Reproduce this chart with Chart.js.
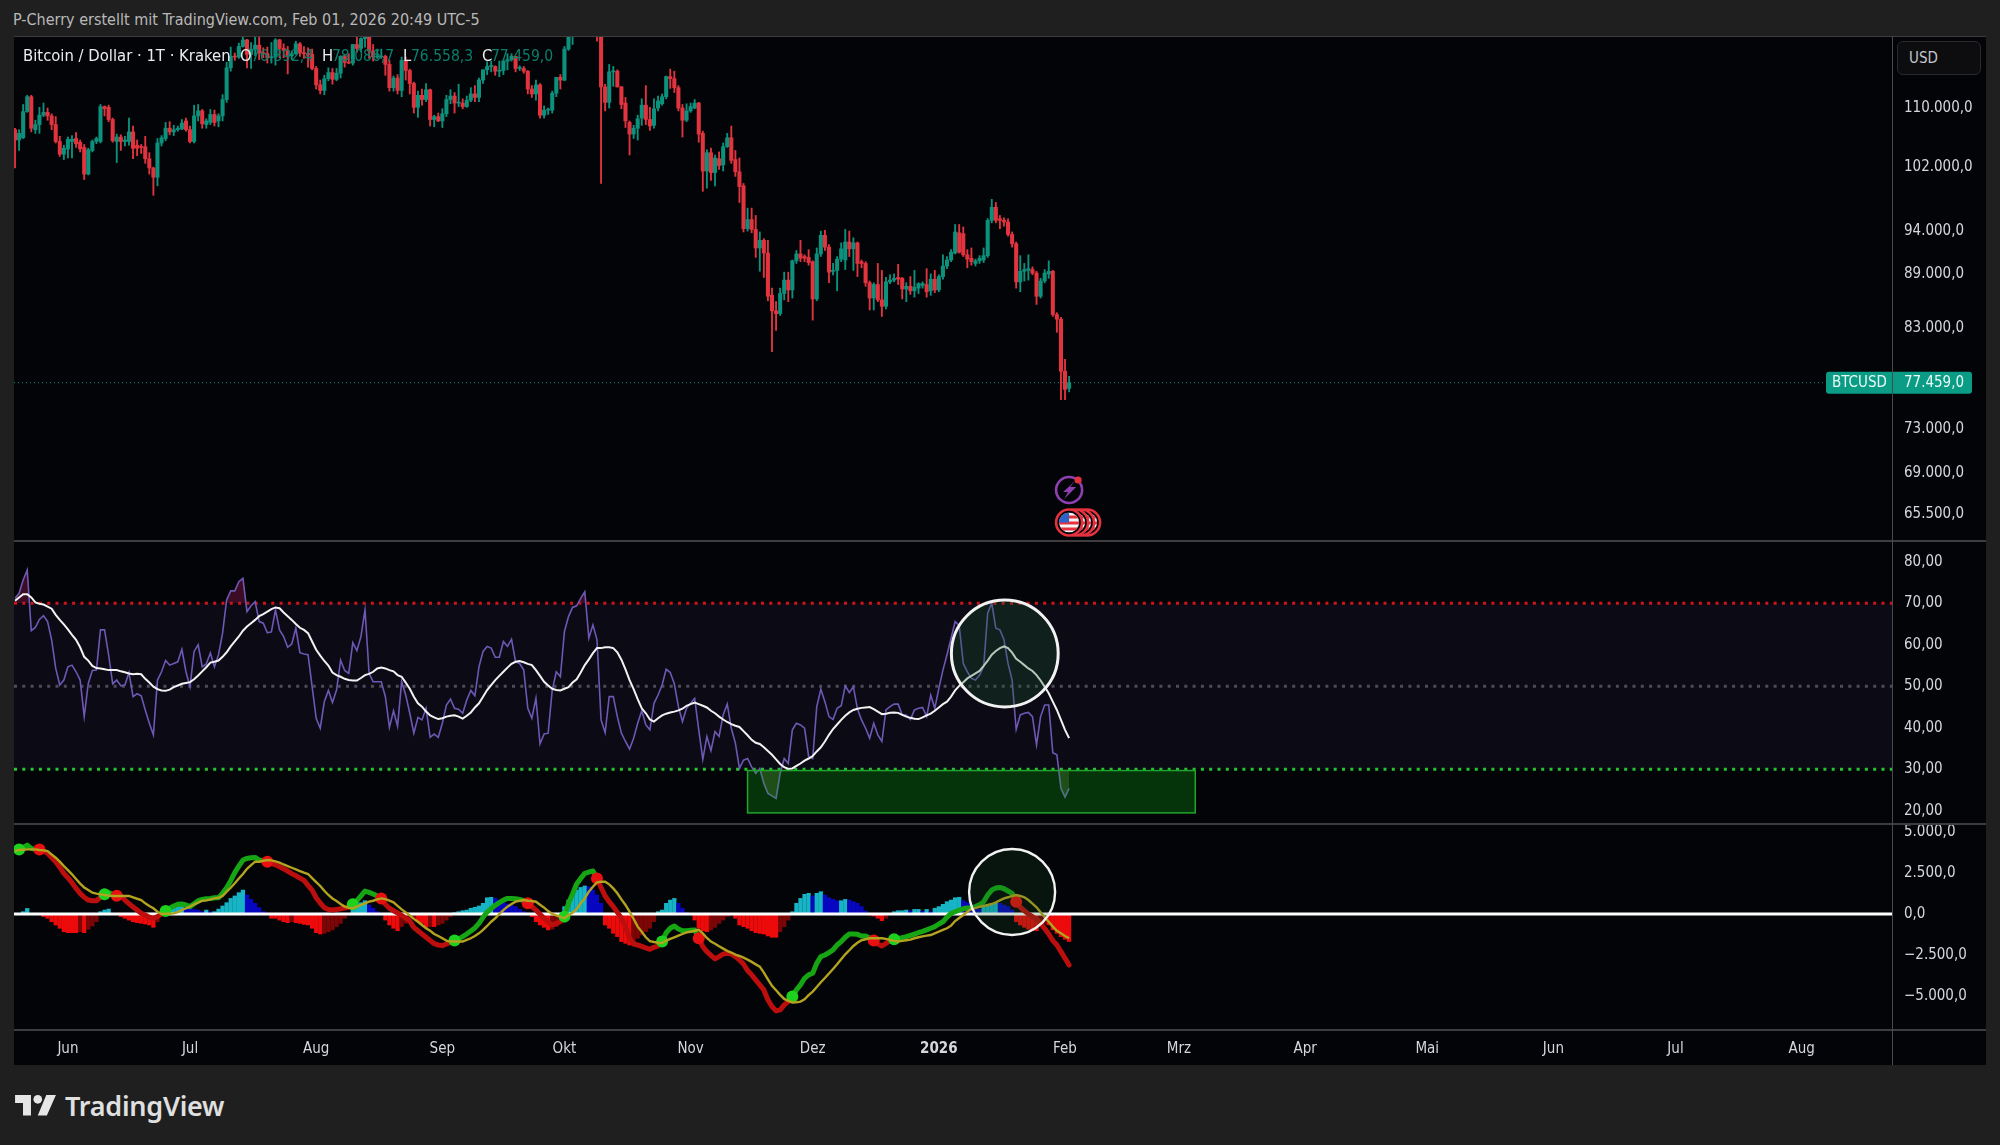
<!DOCTYPE html>
<html>
<head>
<meta charset="utf-8">
<title>BTCUSD</title>
<script src="https://cdn.jsdelivr.net/npm/chart.js@4"></script>
<style>
body { margin: 0; width: 2000px; height: 1145px; overflow: hidden; position: relative; background: #1f1f1f; color: #e6e6e6; font-family: "DejaVu Sans Condensed", "DejaVu Sans", sans-serif; }
canvas { position: absolute; left: 14px; background: #030408; }
#priceCanvas { top: 36px; }
#rsiCanvas { top: 540px; }
#macdCanvas { top: 823px; }
.t { position: absolute; white-space: nowrap; line-height: 18px; }
.sep { position: absolute; background: #3d3d40; }
.legend { top: 47px; font-size: 15.5px; color: #ececec; }
.val { color: #0a7f6c; }
</style>
</head>
<body>
<canvas id="priceCanvas" width="1972" height="504"></canvas>
<canvas id="rsiCanvas" width="1972" height="283"></canvas>
<canvas id="macdCanvas" width="1972" height="242"></canvas>

<div class="sep" style="left:14px;top:36px;width:1972px;height:1px"></div>
<div class="sep" style="left:14px;top:540px;width:1972px;height:1.5px"></div>
<div class="sep" style="left:14px;top:823px;width:1972px;height:1.5px"></div>
<div class="sep" style="left:14px;top:1029px;width:1972px;height:1.5px"></div>
<div class="sep" style="left:1892px;top:36px;width:1.2px;height:1029px;background:#4a4a4d"></div>

<div class="t" style="left:13px;top:11px;font-size:16px;color:#b9b9b9">P-Cherry erstellt mit TradingView.com, Feb 01, 2026 20:49 UTC-5</div>
<div class="t legend" style="left:23px;font-size:16.5px">Bitcoin / Dollar · 1T · Kraken</div>
<div class="t legend" style="left:240px;font-size:16.5px">O</div><div class="t legend val" style="left:251px">76.892,4</div>
<div class="t legend" style="left:322px;font-size:16.5px">H</div><div class="t legend val" style="left:332px">78.086,7</div>
<div class="t legend" style="left:403px;font-size:16.5px">L</div><div class="t legend val" style="left:411px">76.558,3</div>
<div class="t legend" style="left:482px;font-size:16.5px">C</div><div class="t legend val" style="left:491px">77.459,0</div>

<div class="t" style="left:1897px;top:41px;width:84px;height:34px;box-sizing:border-box;border:1px solid #2a2a2c;border-radius:6px;background:#0d0d10;font-size:15px;line-height:32px;padding-left:11px;color:#c4c6cc">USD</div>

<svg style="position:absolute;left:15px;top:1095px" width="41" height="21" viewBox="0 0 36 18.5"><path fill="#e6e6e6" d="M14 18H7V7H0V0h14v18zM28 18h-8L27.5 0h8.5L28 18z"/><circle cx="20" cy="3.8" r="3.8" fill="#e6e6e6"/></svg>
<div class="t" style="left:65px;top:1091px;font-family:'Noto Sans',sans-serif;font-weight:600;font-size:27px;line-height:30px;letter-spacing:-0.25px;color:#e0e0e0">TradingView</div>

<div id="debug" class="t" style="left:600px;top:5px;color:#ff0"></div>

<script>
// === DATA ===
// daily candles in thousand USD, index 0 = 19 May 2025, index 259 = 2 Feb 2026
const openK = [107.0,105.6,105.9,109.5,111.6,107.0,107.7,109.0,109.4,108.9,
107.7,105.4,103.7,104.4,105.4,105.8,105.3,104.6,101.1,104.2,
105.4,105.4,110.2,110.1,108.4,105.4,106.0,105.4,105.4,106.7,
104.9,104.7,104.7,103.1,101.9,100.7,105.2,105.8,107.2,106.7,
107.0,107.1,108.2,107.0,105.4,108.9,109.6,107.7,108.0,109.1,
108.2,108.9,111.2,115.8,117.5,117.4,119.0,120.0,117.8,118.6,
119.2,118.0,117.9,117.3,117.4,120.0,118.7,118.4,117.6,117.9,
119.4,118.0,117.9,117.8,115.7,113.3,112.5,114.2,115.1,114.1,
115.0,117.5,116.6,116.5,119.3,118.7,120.2,123.3,118.3,117.4,
117.4,117.5,116.3,112.9,114.3,112.5,116.9,115.4,113.5,110.1,
111.8,111.2,112.6,108.4,108.8,108.2,109.2,111.2,111.7,110.7,
110.7,110.2,111.1,112.0,111.5,114.0,115.5,116.0,116.0,115.3,
115.4,116.8,117.0,117.5,115.7,115.7,115.3,112.7,112.0,113.3,
109.0,109.7,109.7,112.1,114.4,114.0,118.6,120.6,122.3,122.4,
123.5,124.7,121.4,123.3,121.7,113.0,110.8,115.2,115.3,113.0,
110.7,108.0,106.4,107.2,108.6,110.4,108.4,107.6,110.0,110.6,
111.6,114.5,114.2,112.9,110.0,108.3,109.6,110.0,110.7,106.5,
101.5,103.9,101.3,103.1,102.3,104.7,105.9,103.0,101.4,99.6,
94.3,95.4,94.2,92.0,92.9,91.4,86.6,84.9,84.6,86.8,
88.3,87.2,90.5,91.3,91.0,90.9,90.4,86.2,91.3,93.5,
92.1,89.3,89.4,90.7,90.6,92.7,91.9,92.6,90.4,90.2,
88.0,86.3,87.8,86.1,85.4,88.1,88.3,88.6,88.5,87.3,
87.6,87.1,87.4,87.7,87.8,87.1,88.4,87.2,88.7,89.9,
90.6,91.4,93.8,93.7,91.2,90.8,90.2,90.5,90.6,91.1,
95.3,96.9,95.5,95.3,95.1,93.6,92.5,88.1,89.3,89.4,
89.5,89.1,86.5,88.2,89.0,89.3,84.5,84.0,78.6,76.892];
const highK = [107.2,107.0,110.5,111.8,111.8,108.3,110.1,110.7,110.0,109.2,
108.8,106.1,104.9,106.0,106.2,106.6,105.6,105.0,104.5,105.6,
106.0,110.5,110.3,110.4,108.6,106.4,106.3,106.1,108.6,107.5,
105.6,105.0,106.1,103.9,102.0,105.8,106.2,108.0,108.1,107.6,
107.5,108.4,108.6,107.5,110.4,110.5,109.8,108.5,109.8,109.7,
109.2,111.9,116.6,118.9,118.0,119.5,123.2,120.1,119.6,120.9,
120.6,118.8,118.9,119.6,120.2,120.1,119.4,119.0,118.3,119.8,
119.6,119.0,118.8,118.6,116.0,114.0,114.7,115.8,115.7,115.7,
117.6,117.7,117.9,119.3,122.3,120.3,123.7,124.4,119.3,118.6,
118.6,117.7,116.9,114.6,114.8,117.4,117.4,115.6,113.7,112.4,
112.7,113.5,112.7,109.0,109.3,109.9,111.8,112.6,112.2,113.4,
111.3,111.7,112.9,113.2,114.3,115.5,116.7,116.8,116.1,116.8,
117.0,117.9,117.9,117.5,116.1,116.0,115.4,113.2,114.0,113.5,
110.3,110.0,112.4,114.4,114.8,119.0,121.0,123.9,122.9,125.6,
126.3,125.1,124.2,123.9,122.6,113.4,116.3,116.0,115.5,113.1,
111.5,108.2,107.6,109.0,111.3,113.2,110.1,111.3,111.7,112.0,
114.6,115.6,115.3,113.2,110.5,110.6,110.7,111.2,110.8,106.8,
104.3,104.5,103.6,104.0,105.2,106.5,107.5,104.2,103.2,99.9,
96.8,96.8,95.9,93.9,93.1,92.9,87.4,85.9,87.4,89.2,
89.2,90.6,91.7,92.9,91.2,91.8,90.5,92.0,94.0,94.1,
92.4,90.2,91.0,92.6,94.2,94.0,93.2,92.7,90.6,90.4,
88.2,88.0,90.2,89.4,88.6,88.9,89.0,90.1,88.6,88.0,
88.7,89.4,88.0,88.1,89.6,89.0,89.4,88.9,91.2,91.0,
91.8,94.8,94.8,94.5,91.8,92.0,90.7,91.1,92.0,95.5,
97.9,97.5,95.9,95.6,95.5,93.9,92.7,91.1,90.2,91.2,
89.8,89.3,88.5,89.5,90.5,89.4,84.7,84.2,79.8,78.087];
const lowK = [101.9,104.2,105.8,109.4,106.7,106.5,106.5,108.8,108.3,107.0,
105.2,103.4,103.0,103.2,103.2,104.6,104.0,100.4,101.0,104.0,
105.1,105.2,108.9,108.1,105.3,102.6,104.2,104.8,104.9,103.1,
103.5,103.8,102.5,101.1,98.4,99.6,104.8,105.5,106.3,106.2,
106.8,107.0,106.8,105.2,105.2,108.2,107.2,107.2,107.7,107.5,
107.4,108.2,110.8,115.3,116.9,117.2,118.9,115.8,115.7,117.6,
117.0,117.3,116.5,116.5,116.2,117.3,117.3,114.9,117.0,117.8,
117.5,117.2,115.9,115.5,112.7,112.0,111.9,113.9,113.4,113.9,
114.3,115.9,116.4,116.2,118.1,118.2,118.9,117.2,116.8,117.2,
117.2,114.7,112.4,112.4,112.0,111.6,114.0,112.0,109.3,108.7,
110.4,110.9,107.5,107.4,108.1,107.3,108.8,110.6,109.3,110.2,
109.9,110.1,110.9,110.9,110.9,113.5,114.8,115.2,114.7,114.5,
114.8,115.5,116.8,115.2,115.4,115.0,112.0,111.5,111.1,108.6,
108.6,109.1,109.3,111.6,112.7,113.9,118.4,119.3,121.6,122.0,
123.0,120.6,121.0,119.8,99.9,109.6,110.0,113.1,113.0,109.9,
107.3,103.6,105.8,105.6,107.6,107.7,106.9,107.2,109.6,110.4,
111.3,112.8,112.2,109.6,106.0,108.1,109.4,109.9,105.3,98.9,
99.3,100.3,99.6,101.7,101.5,104.6,102.5,100.8,97.5,93.9,
94.0,93.8,90.9,89.3,88.6,86.0,80.6,82.8,84.4,86.1,
85.9,86.3,90.2,90.4,90.4,90.0,83.9,86.0,91.0,91.7,
88.0,88.9,87.1,90.4,89.5,91.0,89.4,88.7,89.7,87.6,
85.0,85.0,85.9,84.3,85.1,87.9,88.1,87.8,86.2,85.9,
86.7,86.4,86.8,87.4,86.4,86.6,86.9,87.0,88.4,89.6,
90.4,91.3,91.4,91.0,89.7,90.0,89.9,90.2,90.3,90.9,
95.0,95.0,94.3,94.6,93.4,92.1,87.4,87.0,88.2,88.3,
88.9,85.6,86.3,88.0,88.5,84.3,82.6,75.8,75.8,76.558];
const closeK = [105.6,106.5,109.5,111.6,107.2,107.7,109.0,109.4,108.9,107.7,
105.4,103.7,104.5,105.7,105.7,105.1,104.4,101.1,104.3,105.4,
105.8,110.2,109.9,108.4,105.5,106.0,105.4,105.6,106.7,104.5,
104.5,104.6,103.1,101.9,100.7,105.2,105.9,107.2,106.7,107.0,
107.2,107.9,107.0,105.4,108.9,109.6,107.8,108.2,109.1,108.0,
108.9,111.2,115.8,117.5,117.4,119.0,120.0,117.8,118.6,119.2,
118.0,117.9,117.3,117.4,120.0,118.7,118.4,117.6,117.9,119.4,
118.0,117.9,117.8,115.7,113.3,112.5,114.2,115.1,114.1,115.0,
117.5,116.6,116.5,119.3,118.7,120.2,123.3,118.3,117.4,117.4,
117.5,116.3,112.9,114.3,112.5,116.9,115.4,113.5,110.1,111.8,
111.2,112.6,108.4,108.8,108.2,109.2,111.2,111.7,110.7,110.7,
110.2,111.1,112.0,111.5,114.0,115.5,116.0,116.0,115.3,115.4,
116.8,117.0,117.5,115.7,115.7,115.3,112.7,112.0,113.3,109.0,
109.7,109.7,112.1,114.4,114.0,118.6,120.6,122.3,122.4,123.5,
124.7,121.4,123.3,121.7,113.0,110.8,115.2,115.3,113.0,110.5,
108.2,106.4,107.2,108.5,110.4,108.4,107.5,109.9,111.0,111.6,
114.5,114.2,112.9,110.0,108.3,109.6,110.2,110.7,106.4,101.5,
103.9,101.3,103.2,102.2,104.7,105.9,102.9,101.4,99.5,94.3,
95.4,94.2,92.0,92.9,91.4,86.5,84.9,84.6,86.8,88.3,
87.2,90.5,91.3,90.8,90.8,90.3,86.2,91.3,93.5,92.1,
89.2,89.4,90.7,91.9,92.7,91.9,92.6,90.2,90.2,88.0,
86.3,87.8,86.1,85.4,88.1,88.3,88.5,88.4,87.3,87.6,
87.1,87.5,87.9,87.9,87.0,88.4,87.2,88.7,89.9,90.6,
91.5,93.9,91.5,91.2,90.7,90.4,90.5,90.8,91.1,95.3,
96.9,95.3,95.3,95.1,93.6,92.5,88.1,89.3,89.5,89.6,
89.1,86.5,88.2,89.1,89.3,84.5,84.0,78.6,76.8,77.459];

const rsiValues = [71.2,72.4,75.6,78.0,63.4,64.2,66.1,67.0,65.6,61.2,54.3,50.3,51.5,54.7,55.1,53.5,51.5,42.7,50.7,53.8,53.9,63.6,63.6,57.6,50.6,51.5,50.1,50.3,53.3,47.5,48.2,47.7,44.3,41.1,38.3,51.5,53.5,56.2,55.1,55.5,55.9,58.9,53.5,49.9,58.4,60.0,54.7,55.4,58.0,54.7,57.6,62.8,70.8,73.0,73.0,75.2,76.0,68.0,69.4,70.4,65.6,65.2,62.9,63.1,68.4,63.6,62.0,59.4,60.2,64.0,58.1,57.8,57.6,49.9,42.3,39.9,46.3,49.0,46.1,49.1,56.3,53.8,53.1,60.5,58.6,62.0,68.4,53.1,51.1,51.1,51.1,47.5,40.1,44.1,40.4,51.1,47.9,43.5,38.7,42.5,41.9,44.7,37.7,38.5,37.7,41.1,45.5,46.9,44.7,44.5,43.5,46.7,49.0,47.7,54.7,58.4,59.6,59.2,57.0,57.0,60.8,59.6,61.3,55.9,55.5,53.9,44.7,42.3,47.1,36.1,38.5,38.7,49.1,53.5,52.3,63.2,66.8,69.0,69.4,71.2,72.8,61.6,64.8,61.2,
41.9,38.8,47.5,47.5,42.7,38.7,36.7,34.9,37.5,41.1,44.1,40.7,39.5,45.9,47.9,50.3,54.1,53.3,50.6,45.1,41.5,44.7,45.9,47.1,39.5,32.4,37.9,34.5,39.1,37.9,43.1,45.7,39.9,36.3,30.2,32.2,32.6,30.6,29.0,30.2,26.6,24.2,23.6,23.0,29.0,32.6,31.4,39.5,41.1,40.7,39.9,33.1,32.6,45.1,49.3,46.3,42.7,42.0,44.7,45.3,50.1,48.5,49.9,44.5,41.9,39.9,37.5,41.1,38.3,36.7,44.3,45.1,45.7,45.7,43.1,43.1,42.0,44.3,44.7,44.9,42.7,47.9,44.7,49.5,53.9,57.6,61.6,65.6,64.6,55.5,53.5,51.9,51.5,52.7,54.7,67.6,70.0,64.0,63.6,61.2,55.5,51.5,39.6,43.1,43.5,43.7,42.7,35.9,42.7,45.5,45.5,34.0,33.5,25.4,23.3,25.4];
const rsiAverage = [70.6,71.4,72.2,72.2,71.4,70.2,69.9,69.7,69.2,68.7,67.2,66.0,64.9,63.7,62.4,61.2,59.4,57.1,56.2,54.9,54.4,54.3,54.1,53.9,53.9,53.9,53.6,53.4,53.1,52.9,53.0,52.9,51.8,50.9,49.9,49.3,49.0,48.9,49.2,49.8,50.2,50.6,50.8,51.0,51.7,52.6,53.6,54.6,55.7,55.9,56.2,57.1,58.2,59.6,60.8,62.0,63.4,64.4,65.2,66.0,66.9,67.4,68.0,68.6,69.0,68.8,67.8,66.9,66.0,65.0,64.1,63.6,62.8,60.8,58.8,57.4,56.1,55.0,53.3,52.7,52.3,51.8,51.5,51.4,51.4,52.0,52.7,53.0,53.5,54.3,54.5,54.3,53.9,53.6,52.7,52.3,50.9,49.4,47.5,45.9,45.1,43.9,43.0,42.5,42.1,42.3,42.7,42.9,43.0,42.7,42.2,42.9,43.7,44.9,45.9,47.5,49.1,50.3,51.5,52.5,53.5,54.5,55.4,55.9,56.1,55.8,55.4,55.1,53.9,52.5,51.1,50.2,49.4,49.1,49.0,49.4,49.8,50.9,51.7,53.3,55.1,56.5,58.0,59.2,
59.2,59.4,59.4,59.2,58.2,56.4,54.1,51.5,49.3,46.9,44.7,43.5,42.0,41.5,42.3,43.0,43.4,43.7,43.9,44.2,44.6,45.3,45.7,46.1,45.7,45.3,44.9,44.1,43.5,42.7,42.0,41.4,40.9,40.5,40.2,39.2,38.2,37.1,36.4,36.1,35.3,34.4,33.5,32.4,31.3,30.5,30.1,30.2,30.8,31.4,32.1,32.6,33.2,34.3,35.3,36.7,38.3,39.7,40.8,41.9,42.9,43.7,44.3,44.6,44.8,44.9,45.0,44.5,43.9,43.3,43.4,43.6,43.7,43.6,43.1,42.7,42.4,42.2,42.1,42.5,43.0,43.4,44.1,44.9,45.7,46.3,47.5,49.0,50.1,51.0,51.9,52.5,53.1,53.7,54.9,56.2,57.6,58.5,59.2,59.6,59.2,58.1,56.6,55.9,55.1,54.3,53.7,52.7,51.4,49.9,48.3,46.3,44.3,41.9,39.5,37.5];

const macdValues = [3900,3940,4060,4200,4000,3940,3940,3860,3690,3450,3190,2840,2480,2210,1910,1560,1260,1020,850,810,810,1020,1200,1300,1200,1120,1100,850,630,430,240,40,-60,-200,-260,-160,0,180,350,490,590,610,550,450,630,810,890,930,950,990,990,1260,1600,2030,2520,2920,3290,3390,3430,3450,
3290,3250,3190,3090,3000,2880,2760,2620,2460,2330,2190,2050,1750,1460,990,670,390,280,240,280,320,370,410,590,810,1100,1400,1320,1220,1100,
950,590,350,200,60,-80,-260,-430,-810,-1020,-1220,-1420,-1620,-1810,-1890,-1930,-1830,-1730,-1620,-1520,-1380,-1220,-1040,-850,-570,-200,120,330,530,690,850,950,950,930,890,810,650,450,240,-20,-260,-490,-670,-570,-470,-160,650,1220,1830,2170,2480,2560,2620,2170,
1620,1100,750,450,100,-260,-770,-1480,-1830,-1890,-1970,-2070,-2150,-2030,-1950,-1680,-1140,-870,-730,-910,-1020,-1020,-990,-970,-1480,-1990,-2290,-2520,-2740,-2600,-2440,-2400,-2440,-2600,-2800,-3050,-3450,-3710,-4020,-4320,-4630,-5240,-5640,-5910,-5850,-5540,-5340,-5030,-4630,-4320,-3920,-3710,-3610,-3000,-2600,-2500,-2350,-2190,-1890,-1680,-1420,-1220,-1220,-1240,-1340,-1340,-1460,-1620,-1830,-1950,-1790,-1620,-1540,-1500,-1440,-1380,-1300,-1220,-1140,-1060,-970,-870,-770,-610,-470,-200,40,140,240,320,370,370,450,570,750,1160,1460,1580,1620,1540,1400,1260,750,410,200,0,-160,-320,-570,-890,-1220,-1620,-1890,-2290,-2700,-3110];
const signalValues = [3860,3900,3920,3940,3940,3940,3900,3880,3840,3630,3430,3190,2920,2680,2420,2130,1850,1620,1460,1300,1240,1200,1160,1120,1100,1100,1100,1100,1100,1020,930,850,650,490,350,140,0,20,20,40,120,240,350,450,590,690,810,830,890,950,990,1100,1360,1600,1870,2170,2440,2760,2980,3190,
3190,3250,3290,3270,3210,3130,3020,2920,2820,2720,2620,2520,2440,2190,1950,1710,1420,1160,950,790,610,450,370,350,450,550,650,750,810,890,
950,910,810,710,490,280,100,-80,-300,-470,-670,-870,-1020,-1220,-1340,-1480,-1620,-1680,-1680,-1680,-1680,-1580,-1480,-1340,-1180,-970,-730,-470,-260,0,240,450,610,750,810,850,810,790,750,570,390,180,0,-80,-180,-260,-60,80,300,650,950,1360,1660,1930,
1970,1970,1810,1560,1260,890,550,140,-300,-770,-1080,-1420,-1660,-1710,-1750,-1770,-1620,-1520,-1420,-1320,-1220,-1120,-1080,-1020,-970,-1180,-1460,-1680,-1810,-1970,-2110,-2250,-2350,-2480,-2560,-2660,-2780,-2920,-3070,-3210,-3570,-3980,-4380,-4650,-4930,-5180,-5300,-5400,-5380,-5340,-5200,-4950,-4730,-4450,-4160,-3900,-3630,-3350,-3070,-2760,-2460,-2210,-1950,-1750,-1600,-1540,-1480,-1480,-1480,-1480,-1520,-1580,-1640,-1680,-1640,-1600,-1560,-1480,-1420,-1360,-1320,-1280,-1180,-1080,-970,-870,-710,-430,-240,-60,140,300,370,430,490,550,610,710,830,950,1020,1100,1160,1100,1020,850,630,410,100,-200,-470,-770,-1020,-1180,-1340,-1480];
const histValues = [0,40,140,340,40,0,0,
-160,-260,-470,-670,-870,-1080,-1140,-1140,-1140,-1080,-1140,-930,-730,-470,
140,240,300,0,0,
-160,-260,-370,-470,-530,-570,-610,-670,-810,-470,
0,40,
240,350,450,550,450,350,280,240,140,240,140,140,300,490,690,950,1100,1300,1460,1160,890,650,390,140,
0,
-260,-260,-370,-470,-530,-470,-530,-570,-630,-670,-870,-1140,-1220,-1180,-1080,-970,-770,-570,-260,-60,
350,450,690,810,550,350,140,
0,
-370,-670,-870,-1020,-770,-570,-370,-260,-470,-570,-810,-770,-770,-670,-570,-370,-160,
80,140,200,240,350,410,490,650,990,1020,950,850,750,610,550,450,280,140,
0,
-160,-470,-670,-810,-970,-930,-770,-470,
450,850,1160,1460,1620,1710,1660,1460,1160,650,
-670,-870,-1180,-1380,-1680,-1790,-1890,-1790,-1480,-1280,-1080,-870,-470,
140,240,650,850,950,650,350,80,
0,
-370,-870,-1020,-1080,-970,-810,-570,-370,-160,
-60,-260,-670,-770,-870,-1020,-1140,-1180,-1220,-1340,-1420,-1420,-1080,-770,-370,
140,650,950,1200,1260,1100,1260,1360,1160,990,890,810,810,890,850,750,650,450,180,
-60,-120,-260,-410,-260,
0,
140,200,200,240,200,280,280,180,280,140,350,450,590,750,850,990,1020,810,690,550,450,300,450,590,650,690,650,550,450,240,
-470,-670,-810,-930,-1020,-1020,-770,-570,-670,-970,-1180,-1380,-1540,-1680];
const macdCrossUp = [1,22,37,83,108,135,159,191,216];
const macdCrossDown = [6,25,62,90,126,143,168,211,246];

const lastPrice = 77459;
const priceTicks = [110000,102000,94000,89000,83000,73000,69000,65500];
const rsiTicks = [80,70,60,50,40,30,20];
const macdTicks = [5000,2500,0,-2500,-5000];
const monthLabels = ['Jun','Jul','Aug','Sep','Okt','Nov','Dez','2026','Feb','Mrz','Apr','Mai','Jun','Jul','Aug'];
const monthIndex = [13,43,74,105,135,166,196,227,258,286,317,347,378,408,439];

const rsiLevels = { upper: 70, middle: 50, lower: 30 };
const zoneIndex = [180,290];
const zoneValue = [29.7,19.5];
const rsiMark = { index: 243.2, value: 57.9 };
const macdMark = { index: 245, value: 1340 };

// === SHARED OPTIONS ===
const FONT = { family: '"DejaVu Sans Condensed", "DejaVu Sans", sans-serif', size: 15 };
const UP = '#0c917c';
const DOWN = '#e2343f';
const xMin = -0.25, xMax = 461.2;
const idx = closeK.map((_, i) => i);

if (![openK, highK, lowK, rsiValues, rsiAverage, macdValues, signalValues, histValues].every(a => a.length === 260) || closeK.length !== 260) {
    document.getElementById('debug').textContent = [openK, highK, lowK, closeK, rsiValues, rsiAverage, macdValues, signalValues, histValues].map(a => a.length).join(' ');
}

function xScale(show) {
    return {
        type: 'linear', min: xMin, max: xMax, offset: false, display: show,
        grid: { display: false }, border: { display: false },
        afterFit: s => { s.paddingLeft = 0; s.paddingRight = 0; if (show) s.height = 36; },
        afterBuildTicks: s => { s.ticks = monthIndex.map(v => ({ value: v })); },
        ticks: {
            autoSkip: false, maxRotation: 0, padding: 3.5, color: '#d5d7dd',
            font: c => (c.tick && c.tick.value === 227 ? { ...FONT, weight: 'bold' } : FONT),
            callback: v => monthLabels[monthIndex.indexOf(v)]
        }
    };
}

function yScale(type, min, max, ticks, digits) {
    return {
        type, min, max, position: 'right',
        grid: { display: false }, border: { display: false },
        // no room for half tick labels: the pane has to fill the canvas exactly
        afterFit: s => { s.width = 94; s.paddingTop = 0; s.paddingBottom = 0; },
        afterBuildTicks: s => { s.ticks = ticks.map(v => ({ value: v })); },
        ticks: {
            autoSkip: false, padding: 4, color: '#d5d7dd', font: FONT, crossAlign: 'near',
            callback: v => v.toLocaleString('de-DE', { minimumFractionDigits: digits, maximumFractionDigits: digits }).replace('-', '\u2212')
        }
    };
}

function baseOptions(yOpts, showX) {
    return {
        responsive: false, animation: false, events: [],
        layout: { padding: 0 },
        plugins: { legend: { display: false }, tooltip: { enabled: false } },
        elements: { point: { radius: 0 } },
        scales: { x: xScale(showX), y: yOpts }
    };
}

function levelLine(value, color, extra) {
    return Object.assign({
        type: 'line', data: [{ x: xMin, y: value }, { x: xMax, y: value }],
        borderColor: color, borderWidth: 3, borderDash: [3, 5.3], pointRadius: 0, order: 6
    }, extra);
}

// === PRICE PANE ===
const candleColor = c => (closeK[c.dataIndex] >= openK[c.dataIndex] ? UP : DOWN);

new Chart(document.getElementById('priceCanvas'), {
    type: 'bar',
    data: {
        datasets: [
            {
                data: idx.map(i => ({ x: i, y: [Math.min(openK[i], closeK[i]) * 1000, Math.max(openK[i], closeK[i]) * 1000] })),
                backgroundColor: candleColor, barThickness: 3.4, minBarLength: 1, grouped: false, order: 1
            },
            {
                data: idx.map(i => ({ x: i, y: [lowK[i] * 1000, highK[i] * 1000] })),
                backgroundColor: candleColor, barThickness: 1.2, grouped: false, order: 2
            },
            {
                type: 'line', data: [{ x: xMin, y: lastPrice }, { x: xMax, y: lastPrice }],
                borderColor: '#0c8f7b', borderWidth: 1, borderDash: [1, 3], pointRadius: 0, order: 3
            }
        ]
    },
    options: baseOptions(yScale('logarithmic', 63360, 120600, priceTicks, 1), false),
    plugins: [{
        id: 'priceExtras',
        afterDraw(chart) {
            const { ctx, scales: { x, y } } = chart;
            const py = y.getPixelForValue(lastPrice);
            // BTCUSD label on the axis
            ctx.save();
            ctx.fillStyle = '#0a9c84';
            ctx.beginPath();
            ctx.roundRect(1812, py - 11, 146, 22, 3);
            ctx.fill();
            ctx.fillStyle = '#eafaf6';
            ctx.font = '15px ' + FONT.family;
            ctx.textBaseline = 'middle';
            ctx.fillText('BTCUSD', 1818, py + 0.5);
            ctx.fillText('77.459,0', 1890, py + 0.5);
            ctx.restore();

            // event icons under the last candle
            const ix = x.getPixelForValue(259);
            ctx.save();
            ctx.strokeStyle = '#8e3fb0';
            ctx.lineWidth = 2.6;
            ctx.beginPath(); ctx.arc(ix, 454, 13, 0, Math.PI * 2); ctx.stroke();
            ctx.fillStyle = '#8e3fb0';
            ctx.beginPath();
            ctx.moveTo(ix + 6, 445); ctx.lineTo(ix - 6, 456); ctx.lineTo(ix - 1, 456); ctx.lineTo(ix - 5, 463);
            ctx.lineTo(ix + 7, 451); ctx.lineTo(ix + 1, 451); ctx.closePath(); ctx.fill();
            ctx.fillStyle = '#e5323e';
            ctx.beginPath(); ctx.arc(ix + 9, 444, 3.6, 0, Math.PI * 2); ctx.fill();
            for (const off of [18, 12, 6, 0]) {
                const cy = 486.5;
                ctx.fillStyle = '#030408';
                ctx.strokeStyle = '#e5323e';
                ctx.lineWidth = 2.6;
                ctx.beginPath(); ctx.arc(ix + off, cy, 13, 0, Math.PI * 2); ctx.fill(); ctx.stroke();
                ctx.save();
                ctx.beginPath(); ctx.arc(ix + off, cy, 10, 0, Math.PI * 2); ctx.clip();
                ctx.fillStyle = '#f4f4f4';
                ctx.fillRect(ix + off - 10, cy - 10, 20, 20);
                ctx.fillStyle = '#e5323e';
                for (let s = -7; s < 10; s += 6) ctx.fillRect(ix + off - 10, cy + s, 20, 3);
                ctx.fillStyle = '#2d62c9';
                ctx.fillRect(ix + off - 10, cy - 10, 10, 10);
                ctx.restore();
            }
            ctx.restore();
        }
    }]
});

// === RSI PANE ===
function drawMark(chart, mark, radius, fill, lineWidth) {
    const { ctx, scales: { x, y } } = chart;
    ctx.save();
    ctx.fillStyle = fill;
    ctx.strokeStyle = '#f2f2f2';
    ctx.lineWidth = lineWidth;
    ctx.beginPath();
    ctx.arc(x.getPixelForValue(mark.index), y.getPixelForValue(mark.value), radius, 0, Math.PI * 2);
    ctx.fill();
    ctx.stroke();
    ctx.restore();
}

new Chart(document.getElementById('rsiCanvas'), {
    type: 'line',
    data: {
        datasets: [
            { data: idx.map(i => ({ x: i, y: rsiAverage[i] })), borderColor: '#f2f2f2', borderWidth: 2, pointRadius: 0, order: 1 },
            { data: idx.map(i => ({ x: i, y: rsiValues[i] })), borderColor: '#6d58b4', borderWidth: 1.6, pointRadius: 0, order: 2,
              fill: { target: { value: rsiLevels.upper }, above: 'rgba(150,25,80,0.38)', below: 'transparent' } },
            { data: idx.map(i => ({ x: i, y: rsiValues[i] })), borderWidth: 0, pointRadius: 0, order: 3,
              fill: { target: { value: rsiLevels.lower }, above: 'transparent', below: 'rgba(150,150,90,0.25)' } },
            levelLine(rsiLevels.upper, '#d0141a', { fill: { target: { value: rsiLevels.lower }, above: 'rgba(126,87,194,0.07)', below: 'transparent' } }),
            levelLine(rsiLevels.middle, '#4b4b50'),
            levelLine(rsiLevels.lower, '#24c82e')
        ]
    },
    options: baseOptions(yScale('linear', 17.06, 85.25, rsiTicks, 2), false),
    plugins: [{
        id: 'rsiMarks',
        afterDatasetsDraw(chart) {
            const { ctx, scales: { x, y } } = chart;
            const left = x.getPixelForValue(zoneIndex[0]), right = x.getPixelForValue(zoneIndex[1]);
            const top = y.getPixelForValue(zoneValue[0]), bottom = y.getPixelForValue(zoneValue[1]);
            ctx.save();
            ctx.fillStyle = 'rgba(10,180,20,0.27)';
            ctx.strokeStyle = '#1ea62a';
            ctx.lineWidth = 1.5;
            ctx.fillRect(left, top, right - left, bottom - top);
            ctx.strokeRect(left, top, right - left, bottom - top);
            ctx.restore();
            drawMark(chart, rsiMark, 53.4, 'rgba(30,90,50,0.28)', 3);
        }
    }]
});

// === MACD PANE ===
const macdAbove = [];
{
    let state = false;
    for (const i of idx) {
        if (macdCrossUp.includes(i)) state = true;
        if (macdCrossDown.includes(i)) state = false;
        macdAbove.push(state);
    }
}
const isCross = i => macdCrossUp.includes(i) || macdCrossDown.includes(i);

function histColor(c) {
    const v = histValues[c.dataIndex];
    const prev = c.dataIndex > 0 ? histValues[c.dataIndex - 1] : 0;
    if (v >= 0) return v >= prev ? '#16b4c4' : '#0707c2';
    return v <= prev ? '#ec0a0a' : '#7c0505';
}

new Chart(document.getElementById('macdCanvas'), {
    type: 'bar',
    data: {
        datasets: [
            { type: 'line', data: idx.map(i => ({ x: i, y: signalValues[i] })), borderColor: '#b3a31f', borderWidth: 2.4, pointRadius: 0, order: 1 },
            {
                type: 'line', data: idx.map(i => ({ x: i, y: macdValues[i] })),
                borderWidth: 5, borderCapStyle: 'round', borderJoinStyle: 'round', order: 2,
                segment: { borderColor: c => (macdAbove[c.p0DataIndex] ? '#16a614' : '#bd0e0e') },
                pointRadius: c => (isCross(c.dataIndex) ? 6 : 0),
                pointBackgroundColor: c => (macdCrossUp.includes(c.dataIndex) ? '#1fd11f' : '#e81010'),
                pointBorderWidth: 0
            },
            { type: 'line', data: [{ x: xMin, y: 0 }, { x: xMax, y: 0 }], borderColor: '#ffffff', borderWidth: 3, pointRadius: 0, order: 3 },
            { data: idx.map(i => ({ x: i, y: histValues[i] })), backgroundColor: histColor, barThickness: 3.6, grouped: false, order: 4 }
        ]
    },
    options: baseOptions(yScale('linear', -7012, 5549, macdTicks, 1), true),
    plugins: [{
        id: 'macdMark',
        afterDatasetsDraw(chart) { drawMark(chart, macdMark, 43, 'rgba(25,90,40,0.2)', 2.4); }
    }]
});
</script>
</body>
</html>
